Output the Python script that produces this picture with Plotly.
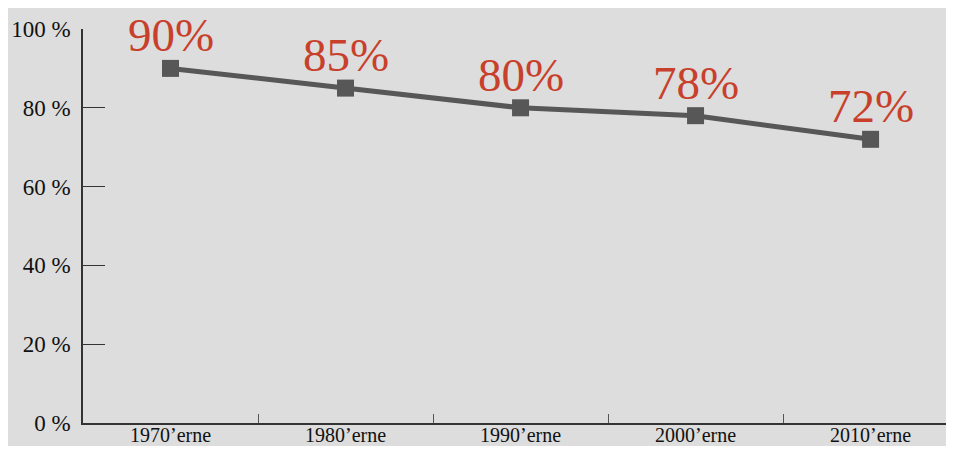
import plotly.graph_objects as go

categories = ["1970’erne", "1980’erne", "1990’erne", "2000’erne", "2010’erne"]
values = [90, 85, 80, 78, 72]
labels = ["90%", "85%", "80%", "78%", "72%"]
y_ticks = [0, 20, 40, 60, 80, 100]
y_ticktext = ["0 %", "20 %", "40 %", "60 %", "80 %", "100 %"]

FONT = "Liberation Serif"
fig = go.Figure()
fig.add_trace(go.Scatter(
    x=categories, y=values, mode="lines+markers",
    line=dict(color="#575757", width=5),
    marker=dict(symbol="square", size=17, color="#575757"),
    cliponaxis=False, showlegend=False, hoverinfo="skip",
))
for c, v, t in zip(categories, values, labels):
    fig.add_annotation(x=c, y=v, text=t, showarrow=False, yanchor="middle",
                       yshift=33, font=dict(family=FONT, size=47, color="#c8402b"))

# the page body keeps an 8px margin, so the figure is sized to fit inside it
fig.update_layout(
    width=938, height=438,
    margin=dict(l=75, r=0, t=21, b=23),
    paper_bgcolor="#dcdddc", plot_bgcolor="#dcdddc",
    font=dict(family=FONT, size=20, color="#111111"),
)
fig.update_xaxes(
    type="category", range=[-0.5, 4.431], showgrid=False, zeroline=False,
    showline=True, linecolor="#333333", linewidth=1.5, automargin=False,
    ticks="inside", ticklen=9, tickwidth=1.2, tickcolor="#555555",
    tickson="boundaries", tickfont=dict(family=FONT, size=20, color="#111111"),
    ticklabelstandoff=-7,
)
fig.update_yaxes(
    range=[0, 100], tickvals=y_ticks, ticktext=y_ticktext, showgrid=False, zeroline=False,
    showline=True, linecolor="#333333", linewidth=1.5, automargin=False,
    ticks="inside", ticklen=22, tickwidth=1.2, tickcolor="#333333",
    tickfont=dict(family=FONT, size=23, color="#111111"), ticklabelstandoff=6,
)
fig.write_html("out.html")
